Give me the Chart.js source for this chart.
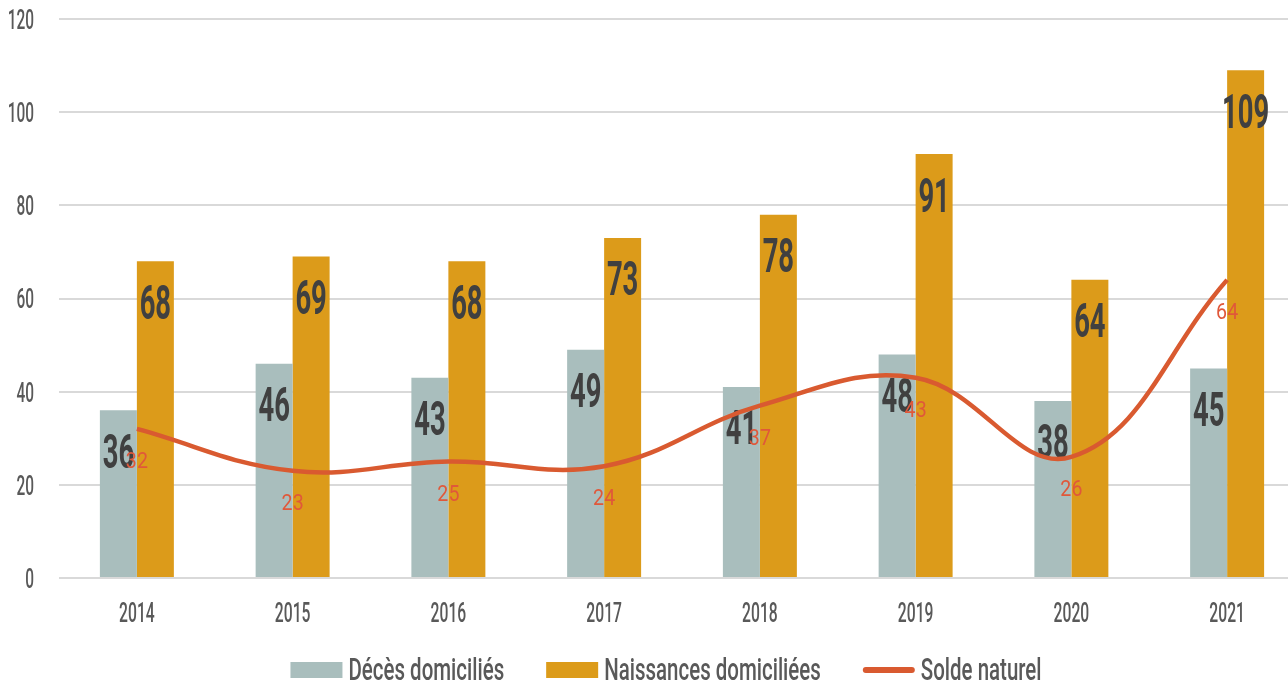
<!DOCTYPE html>
<html>
<head>
<meta charset="utf-8">
<script src="https://cdn.jsdelivr.net/npm/chart.js@4.4.1/dist/chart.umd.min.js"></script>
<style>
  html, body { margin: 0; padding: 0; background: #ffffff; overflow: hidden; width: 1288px; height: 684px; }
  canvas { display: block; }
</style>
</head>
<body>
<canvas id="chart" width="1305" height="684"></canvas>
<script>
// Categories and series
const years = ['2014', '2015', '2016', '2017', '2018', '2019', '2020', '2021'];
const deces = [36, 46, 43, 49, 41, 48, 38, 45];
const naissances = [68, 69, 68, 73, 78, 91, 64, 109];
const solde = [32, 23, 25, 24, 37, 43, 26, 64];
const seriesNames = ['Décès domiciliés', 'Naissances domiciliées', 'Solde naturel'];
// Value axis range
const yMin = 0;
const yMax = 120;
const yStep = 20;

const COLORS = {
  grey: '#A9BEBD',
  orange: '#DC9B1A',
  line: '#D95A30',
  axisText: '#595959',
  valueText: '#404040',
  lineText: '#E0583A',
  grid: '#D9D9D9'
};
const FONT = 'Roboto, "Liberation Sans", sans-serif';
const CAP = 0.711; // cap height ratio of the font

// Draw horizontally condensed text, vertically centred on the cap height
function condensedText(ctx, text, x, yCenter, size, weight, sx, color, align) {
  ctx.save();
  ctx.font = weight + ' ' + size + 'px ' + FONT;
  ctx.fillStyle = color;
  ctx.textBaseline = 'alphabetic';
  ctx.textAlign = align || 'center';
  ctx.translate(x, yCenter + size * CAP / 2);
  ctx.scale(sx, 1);
  ctx.fillText(text, 0, 0);
  ctx.restore();
}
function condensedWidth(ctx, text, size, weight, sx) {
  ctx.save();
  ctx.font = weight + ' ' + size + 'px ' + FONT;
  const w = ctx.measureText(text).width * sx;
  ctx.restore();
  return w;
}

// Axis tick labels, drawn from the scales' own ticks
const axisLabels = {
  id: 'axisLabels',
  afterDraw(chart) {
    const ctx = chart.ctx;
    const y = chart.scales.y;
    y.ticks.forEach((t, i) => {
      condensedText(ctx, String(t.value), 34, y.getPixelForTick(i), 28, 500, 0.55, COLORS.axisText, 'right');
    });
    const x = chart.scales.x;
    years.forEach((lab, i) => {
      condensedText(ctx, lab, x.getPixelForValue(i), 612.5, 27, 500, 0.58, COLORS.axisText, 'center');
    });
  }
};

// Value labels on bars and on the line
const valueLabels = {
  id: 'valueLabels',
  afterDatasetDraw(chart, args) {
    const ctx = chart.ctx;
    const ds = chart.data.datasets[args.index];
    args.meta.data.forEach((el, i) => {
      const v = ds.data[i];
      if (ds.type === 'line') {
        condensedText(ctx, String(v), el.x, el.y + 31, 22.5, 400, 0.87, COLORS.lineText, 'center');
      } else {
        condensedText(ctx, String(v), el.x, el.y + 40, 49, 'bold', 0.56, COLORS.valueText, 'center');
      }
    });
  }
};

// Legend row under the plot
const legendRow = {
  id: 'legendRow',
  afterDraw(chart) {
    const ctx = chart.ctx;
    const size = 32, weight = 500, sx = 0.64;
    const boxW = 52, boxH = 16, gap = 6, itemGap = 42;
    const cy = 670;
    const items = chart.data.datasets.map((ds, i) => ({
      ds, text: seriesNames[i], w: condensedWidth(ctx, seriesNames[i], size, weight, sx)
    }));
    const total = items.reduce((s, it) => s + boxW + gap + it.w, 0) + itemGap * (items.length - 1);
    let x = 666 - total / 2;
    items.forEach(it => {
      if (it.ds.type === 'line') {
        ctx.save();
        ctx.strokeStyle = it.ds.borderColor;
        ctx.lineWidth = 6;
        ctx.lineCap = 'round';
        ctx.beginPath();
        ctx.moveTo(x + 3, cy);
        ctx.lineTo(x + boxW - 3, cy);
        ctx.stroke();
        ctx.restore();
      } else {
        ctx.fillStyle = it.ds.backgroundColor;
        ctx.fillRect(x, cy - boxH / 2, boxW, boxH);
      }
      condensedText(ctx, it.text, x + boxW + gap, cy - 1.5, size, weight, sx, COLORS.axisText, 'left');
      x += boxW + gap + it.w + itemGap;
    });
  }
};

new Chart(document.getElementById('chart'), {
  type: 'bar',
  data: {
    labels: years,
    datasets: [
      {
        label: seriesNames[0],
        data: deces,
        backgroundColor: COLORS.grey,
        categoryPercentage: 0.475,
        barPercentage: 1,
        order: 1
      },
      {
        label: seriesNames[1],
        data: naissances,
        backgroundColor: COLORS.orange,
        categoryPercentage: 0.475,
        barPercentage: 1,
        order: 1
      },
      {
        type: 'line',
        label: seriesNames[2],
        data: solde,
        borderColor: COLORS.line,
        backgroundColor: COLORS.line,
        borderWidth: 4.5,
        tension: 0.4,
        pointRadius: 0,
        fill: false,
        order: 0
      }
    ]
  },
  options: {
    responsive: false,
    animation: false,
    events: [],
    layout: { padding: { left: 59, right: 0, top: 19, bottom: 106 } },
    plugins: {
      legend: { display: false },
      tooltip: { enabled: false }
    },
    scales: {
      x: {
        display: false
      },
      y: {
        min: yMin,
        max: yMax,
        ticks: { stepSize: yStep, display: false },
        grid: { color: COLORS.grid, lineWidth: 2, drawTicks: false },
        border: { display: false },
        afterFit(scale) { scale.width = 0; }
      }
    }
  },
  plugins: [axisLabels, valueLabels, legendRow]
});
</script>
</body>
</html>
